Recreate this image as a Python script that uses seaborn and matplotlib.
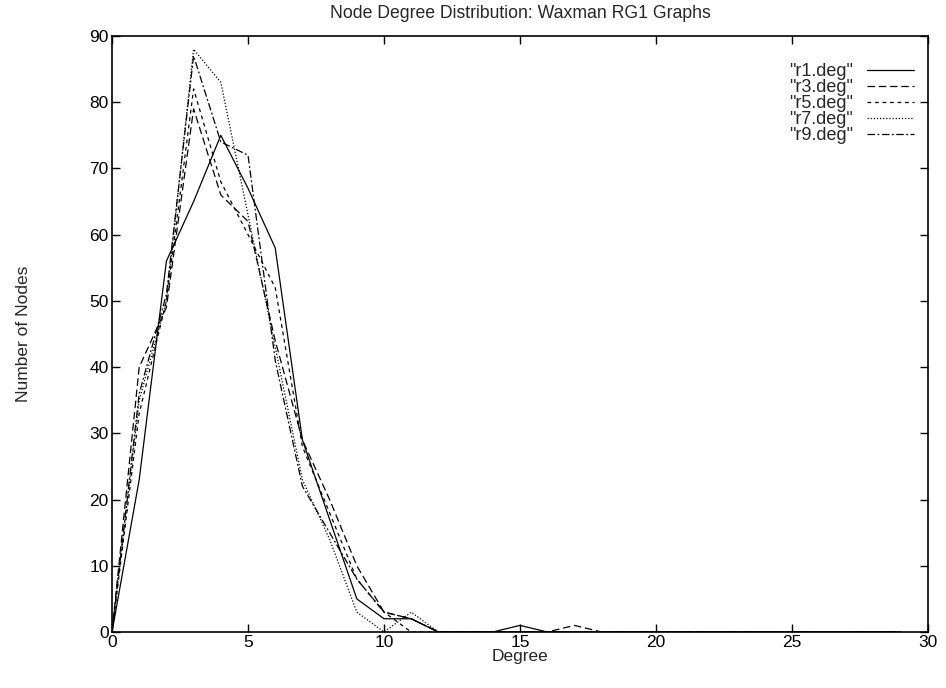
import matplotlib
matplotlib.use("Agg")
import matplotlib.pyplot as plt
import seaborn as sns
import pandas as pd
import numpy as np

series_names = ['"r1.deg"', '"r3.deg"', '"r5.deg"', '"r7.deg"', '"r9.deg"']
degrees = list(range(0, 30))
r1 = [0, 23, 56, 65, 75, 67, 58, 29, 17, 5, 2, 2, 0, 0, 0, 1, 0] + [0] * 13
r3 = [0, 40, 49, 79, 66, 62, 44, 29, 20, 10, 3, 2, 0, 0, 0, 0, 0, 1, 0] + [0] * 11
r5 = [0, 33, 50, 82, 68, 60, 52, 28, 18, 8, 3, 0, 0] + [0] * 17
r7 = [0, 35, 50, 88, 83, 63, 43, 23, 14, 3, 0, 3, 0] + [0] * 17
r9 = [0, 36, 51, 87, 74, 72, 41, 22, 15, 8, 3, 2, 0] + [0] * 17

values = [r1, r3, r5, r7, r9]
rows = []
for name, vals in zip(series_names, values):
    for d, v in zip(degrees, vals):
        rows.append({"Degree": d, "Nodes": v, "series": name})
df = pd.DataFrame(rows)

sns.set_theme(style="ticks")
plt.rcParams['font.family'] = ['Liberation Sans', 'DejaVu Sans']

fig = plt.figure(figsize=(9.46, 6.88), dpi=100)
ax = fig.add_axes([0.1184, 0.0814, 0.8626, 0.8663])

dash_map = {
    '"r1.deg"': "",
    '"r3.deg"': (6, 3),
    '"r5.deg"': (3, 3),
    '"r7.deg"': (1, 1.5),
    '"r9.deg"': (6, 2, 1.5, 2),
}
sns.lineplot(data=df, x="Degree", y="Nodes", hue="series", style="series",
             palette=["black"] * 5, dashes=dash_map, linewidth=0.9, ax=ax,
             legend=True)

ax.set_xlim(0, 30)
ax.set_ylim(0, 90)
ax.set_xticks(range(0, 31, 5))
ax.set_yticks(range(0, 91, 10))
ax.tick_params(direction="in", top=True, right=True, length=6, width=1,
               labelsize=12.5, colors="black", pad=2.5)
for s in ax.spines.values():
    s.set_visible(True)
    s.set_linewidth(1.2)
    s.set_color("black")
ax.set_xlabel("Degree", fontsize=12.5, labelpad=-1)
ax.set_ylabel("Number of Nodes", fontsize=12.5, labelpad=42)
ax.set_title("Node Degree Distribution: Waxman RG1 Graphs", fontsize=12.7, pad=13)

handles, labels = ax.get_legend_handles_labels()
leg = ax.legend(handles, labels, loc="upper right", frameon=False,
                markerfirst=False, fontsize=13, handlelength=2.6,
                labelspacing=-0.05, borderaxespad=0.6, handletextpad=0.8,
                bbox_to_anchor=(1.005, 0.985))

fig.savefig("out.png", dpi=100)
